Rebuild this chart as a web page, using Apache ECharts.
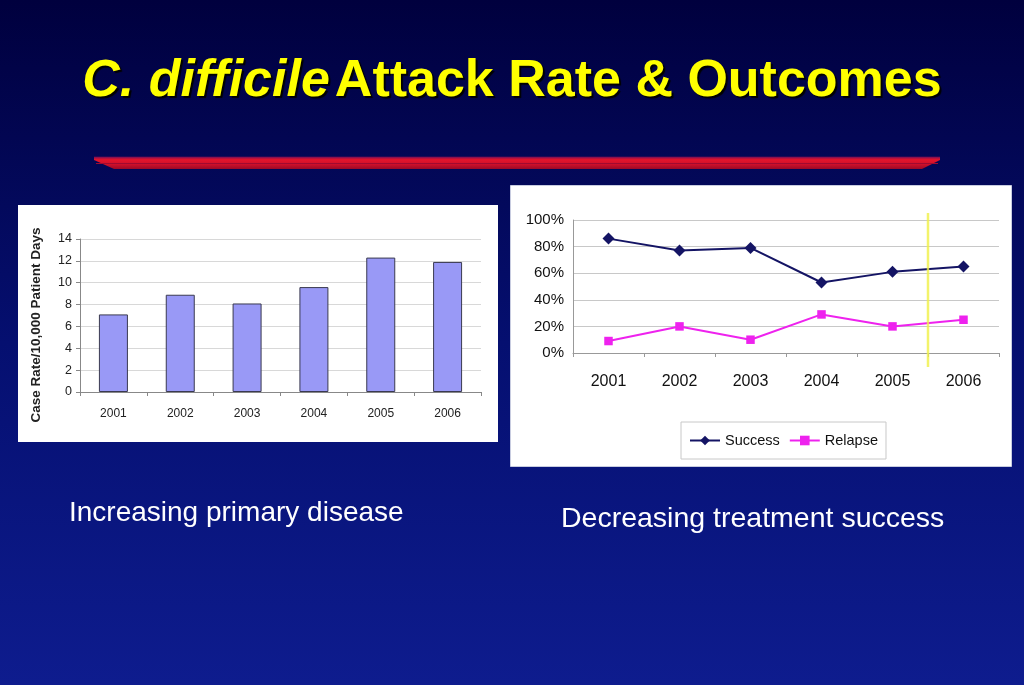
<!DOCTYPE html>
<html>
<head>
<meta charset="utf-8">
<script src="https://cdn.jsdelivr.net/npm/echarts@6/dist/echarts.min.js"></script>
<style>
html,body{margin:0;padding:0;background:#000040;}
#c{width:1024px;height:685px;}
</style>
</head>
<body>
<div id="c"></div>
<script>
// ---- data ----
const years = ['2001', '2002', '2003', '2004', '2005', '2006'];
const caseRate = [7.1, 8.9, 8.1, 9.6, 12.3, 11.9];
const success = [86, 77, 79, 53, 61, 65];
const relapse = [9, 20, 10, 29, 20, 25];
const titleItalic = 'C. difficile';
const titleRest = 'Attack Rate & Outcomes';
const leftCaption = 'Increasing primary disease';
const rightCaption = 'Decreasing treatment success';
const barAxisName = 'Case Rate/10,000 Patient Days';

const sans = "Arial, 'Liberation Sans', sans-serif";
const chart = echarts.init(document.getElementById('c'));

const option = {
  backgroundColor: {
    type: 'linear', x: 0, y: 0, x2: 0, y2: 1,
    colorStops: [
      {offset: 0, color: '#00003e'},
      {offset: 0.5, color: '#050f70'},
      {offset: 1, color: '#0e1c8e'}
    ]
  },
  animation: false,
  title: {
    left: 'center', top: 51,
    text: '{i|' + titleItalic + '} {b|' + titleRest + '}',
    textStyle: {
      rich: {
        i: {fontFamily: sans, fontSize: 52, fontWeight: 'bold', fontStyle: 'italic', color: '#ffff00',
            textShadowColor: '#000', textShadowOffsetX: 2, textShadowOffsetY: 2, textShadowBlur: 1},
        b: {fontFamily: sans, fontSize: 52, fontWeight: 'bold', color: '#ffff00',
            textShadowColor: '#000', textShadowOffsetX: 2, textShadowOffsetY: 2, textShadowBlur: 1}
      }
    }
  },
  graphic: [
    {id: 'rule', type: 'polygon', z: 0,
     shape: {points: [[94,157],[940,157],[940,160],[922,169],[114,169],[94,160]]},
     style: {fill: {type:'linear', x:0, y:0, x2:0, y2:1, colorStops:[{offset:0,color:'#b0103a'},{offset:0.25,color:'#e3142c'},{offset:0.6,color:'#d0102a'},{offset:1,color:'#9a0a28'}]}}},
    {id: 'ruleTop', type: 'line', z: 1, shape: {x1: 94, y1: 157.5, x2: 940, y2: 157.5}, style: {stroke: '#8a1050', lineWidth: 1.5}},
    {id: 'ruleMid', type: 'line', z: 1, shape: {x1: 96, y1: 163.5, x2: 938, y2: 163.5}, style: {stroke: '#a00a30', lineWidth: 1}},
    {id: 'panelL', type: 'rect', z: 0, shape: {x: 18, y: 205, width: 480, height: 237}, style: {fill: '#ffffff'}},
    {id: 'panelR', type: 'rect', z: 0, shape: {x: 510.5, y: 185.5, width: 501, height: 281}, style: {fill: '#ffffff', stroke: '#c8cce0', lineWidth: 1}},
    {id: 'yname', type: 'text', z: 5, x: 36, y: 325, rotation: Math.PI / 2,
     style: {text: barAxisName, font: 'bold 13.5px Arial, sans-serif', fill: '#222', align: 'center', verticalAlign: 'middle'}},
    {id: 'capL', type: 'text', z: 5, x: 69, y: 513,
     style: {text: leftCaption, font: '28px Arial, sans-serif', fill: '#ffffff', align: 'left', verticalAlign: 'middle'}},
    {id: 'capR', type: 'text', z: 5, x: 561, y: 519,
     style: {text: rightCaption, font: '28.5px Arial, sans-serif', fill: '#ffffff', align: 'left', verticalAlign: 'middle'}}
  ],
  legend: {
    data: ['Success', 'Relapse'],
    orient: 'horizontal',
    left: 681, top: 422,
    padding: [11, 8, 11, 8],
    borderColor: '#c8c8c8', borderWidth: 1,
    itemWidth: 30, itemHeight: 12, itemGap: 9,
    textStyle: {fontFamily: sans, fontSize: 14.5, color: '#111'}
  },
  grid: [
    {left: 80, top: 239, width: 401, height: 153, show: true, borderColor: '#d0d0d0', borderWidth: 1, backgroundColor: 'transparent'},
    {left: 573, top: 220, width: 426, height: 133, show: true, borderColor: '#d0d0d0', borderWidth: 1, backgroundColor: 'transparent'}
  ],
  xAxis: [
    {type: 'category', gridIndex: 0, data: years, boundaryGap: true,
     axisLine: {lineStyle: {color: '#888'}},
     axisTick: {show: true, alignWithLabel: false, length: 4, lineStyle: {color: '#888'}},
     axisLabel: {fontFamily: sans, fontSize: 12, color: '#222', margin: 16}},
    {type: 'category', gridIndex: 1, data: years, boundaryGap: true,
     axisLine: {lineStyle: {color: '#999'}},
     axisTick: {show: true, length: 4, lineStyle: {color: '#999'}},
     axisLabel: {fontFamily: sans, fontSize: 16, color: '#111', margin: 21}}
  ],
  yAxis: [
    {type: 'value', gridIndex: 0, min: 0, max: 14, interval: 2,
     axisLine: {show: true, lineStyle: {color: '#888'}},
     axisTick: {show: true, length: 4, lineStyle: {color: '#888'}},
     splitLine: {lineStyle: {color: '#d8d8d8'}},
     axisLabel: {fontFamily: sans, fontSize: 12.5, color: '#222', margin: 8}},
    {type: 'value', gridIndex: 1, min: 0, max: 100, interval: 20,
     axisLine: {show: true, lineStyle: {color: '#999'}},
     axisTick: {show: false},
     splitLine: {lineStyle: {color: '#c8c8c8'}},
     axisLabel: {fontFamily: sans, fontSize: 15, color: '#111', margin: 9, formatter: '{value}%'}}
  ],
  series: [
    {name: 'Case Rate', type: 'bar', xAxisIndex: 0, yAxisIndex: 0, data: caseRate,
     barWidth: 29,
     itemStyle: {color: '#9999f6', borderColor: '#3a3a50', borderWidth: 1}},
    {name: 'Success', type: 'line', xAxisIndex: 1, yAxisIndex: 1, data: success,
     symbol: 'diamond', symbolSize: 12,
     lineStyle: {color: '#141464', width: 2},
     itemStyle: {color: '#141464'}},
    {name: 'Relapse', type: 'line', xAxisIndex: 1, yAxisIndex: 1, data: relapse,
     symbol: 'rect', symbolSize: 8.5,
     lineStyle: {color: '#ee22ee', width: 2},
     itemStyle: {color: '#ee22ee'}}
  ]
};
chart.setOption(option);

// yellow marker line at the boundary between 2005 and 2006 (from the axis scale)
const xa = chart.convertToPixel({xAxisIndex: 1}, years[4]);
const xb = chart.convertToPixel({xAxisIndex: 1}, years[5]);
const yTop = chart.convertToPixel({yAxisIndex: 1}, 100);
const yBot = chart.convertToPixel({yAxisIndex: 1}, 0);
const xm = (xa + xb) / 2;
chart.setOption({
  graphic: [
    {id: 'yline', type: 'line', z: 20,
     shape: {x1: xm, y1: yTop - 7, x2: xm, y2: yBot + 14},
     style: {stroke: 'rgba(240,240,70,0.8)', lineWidth: 2.5}}
  ]
});
</script>
</body>
</html>
